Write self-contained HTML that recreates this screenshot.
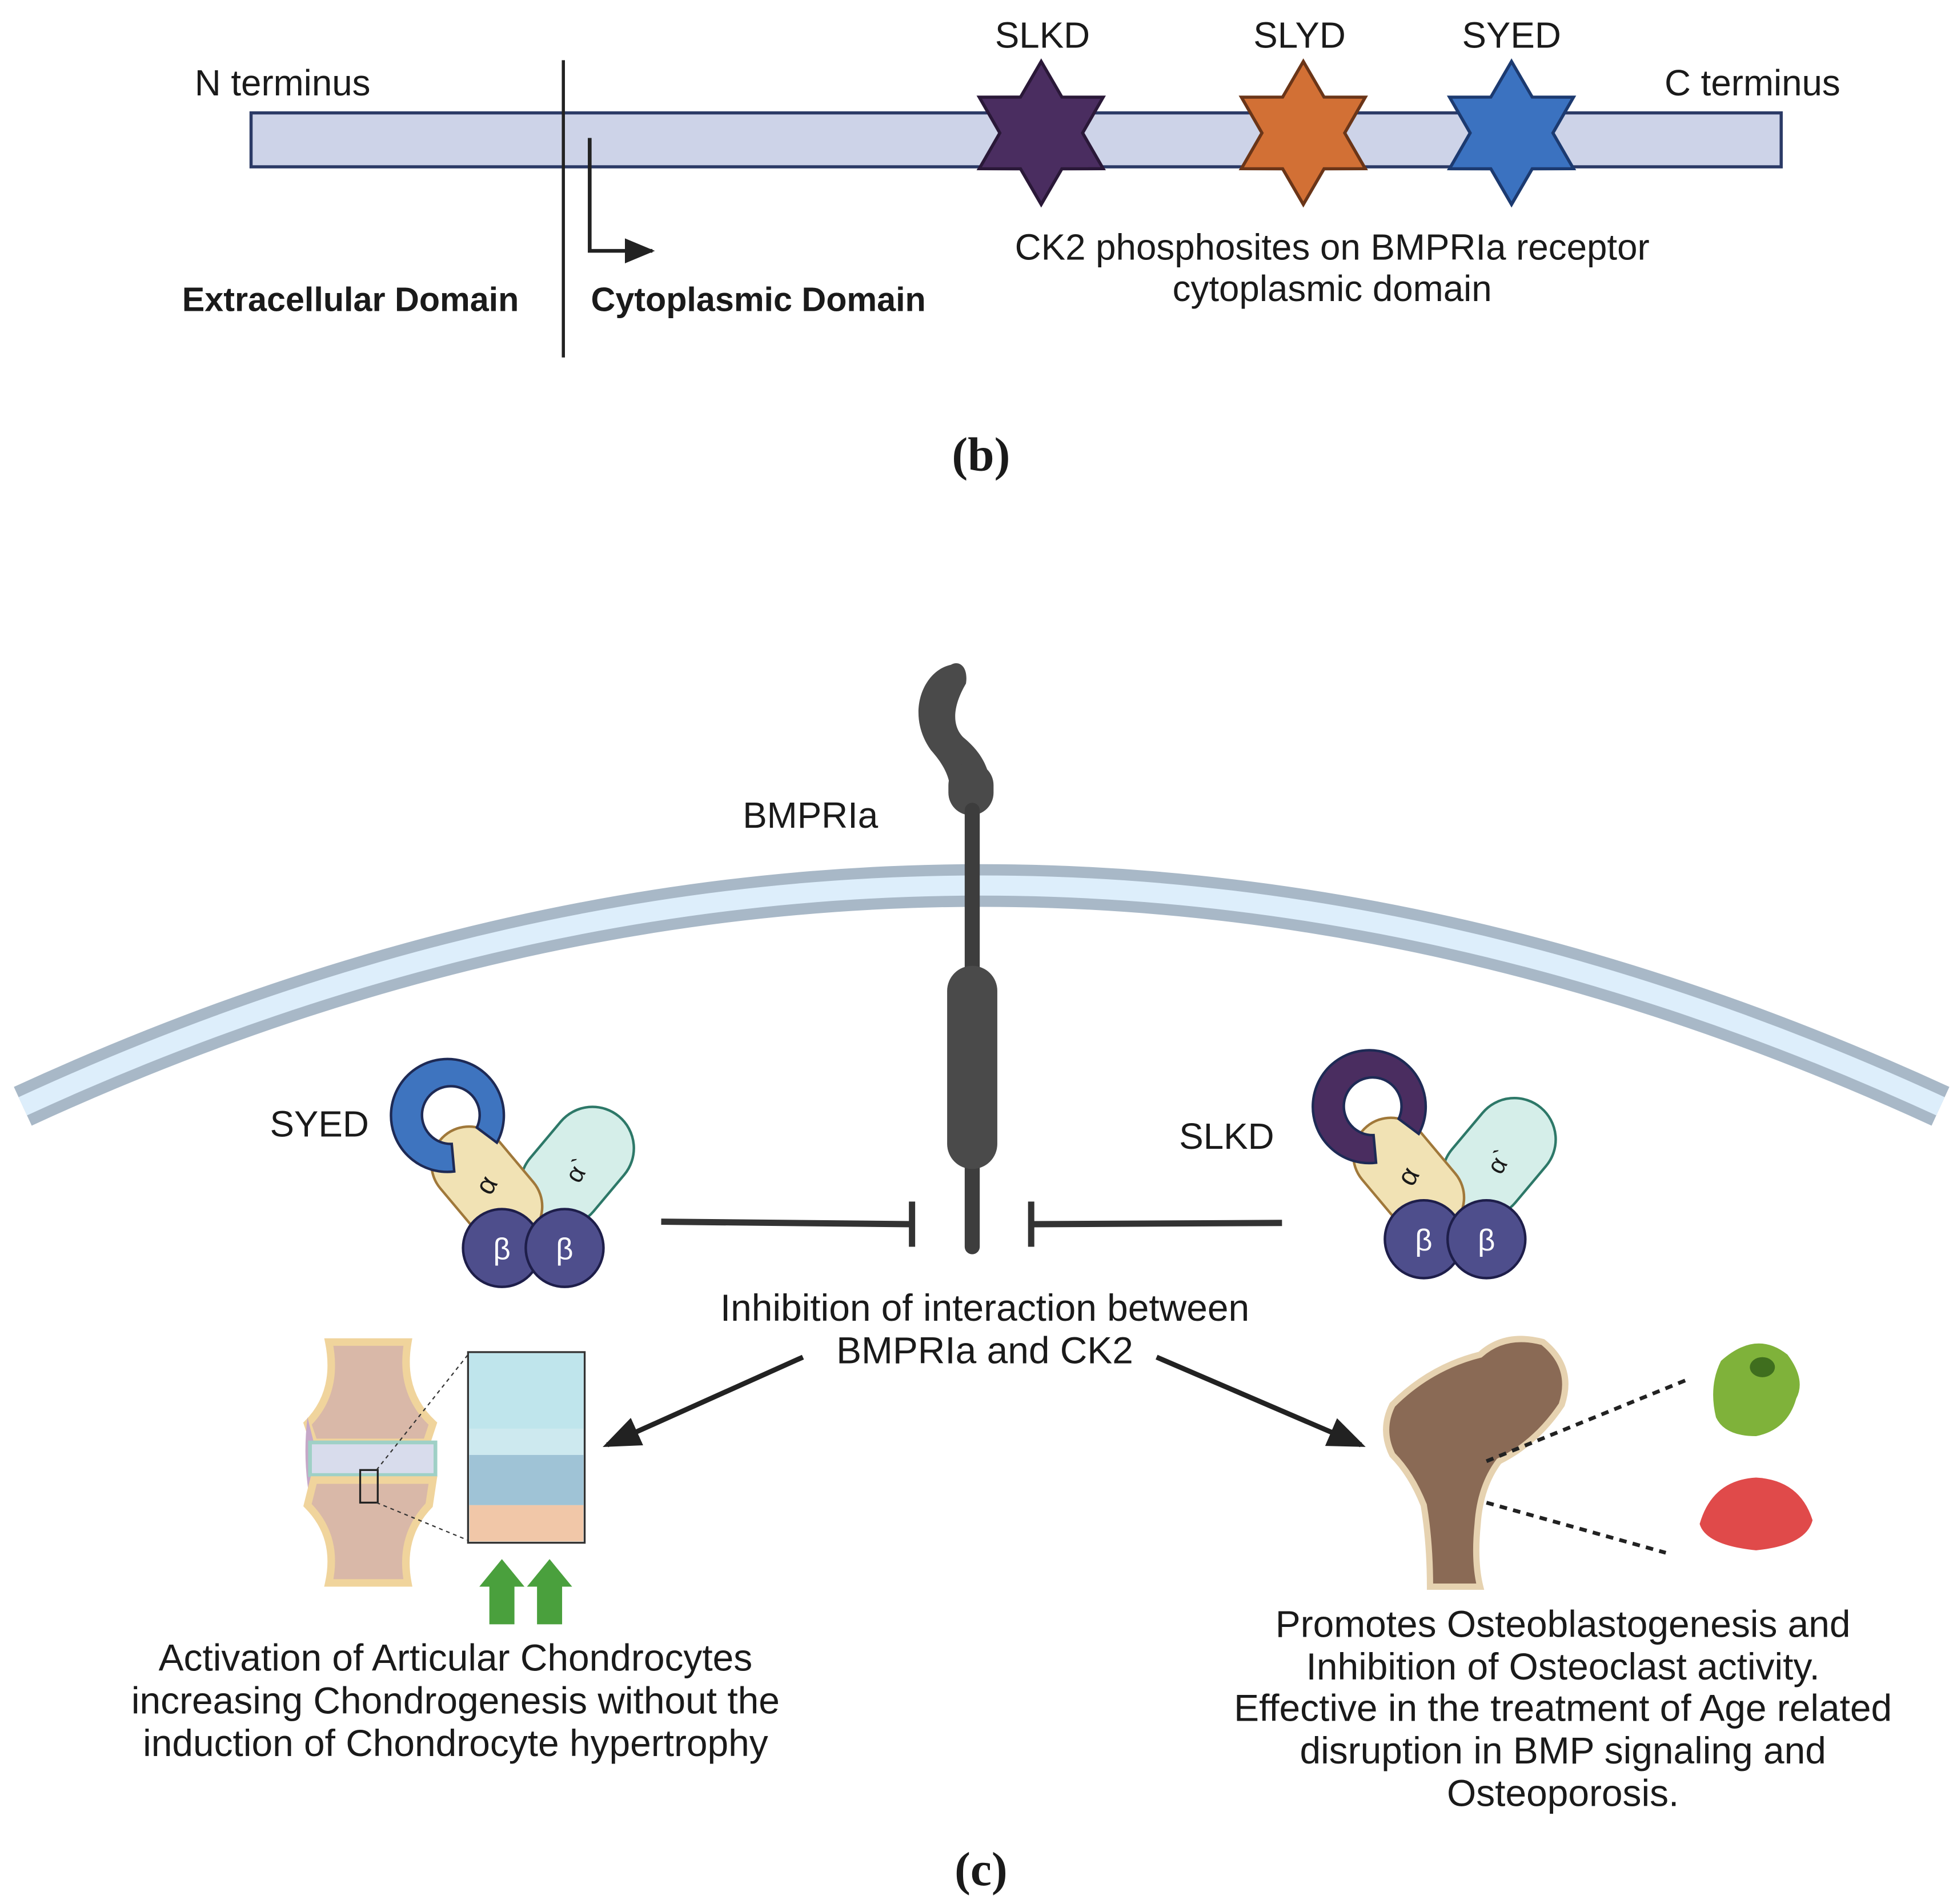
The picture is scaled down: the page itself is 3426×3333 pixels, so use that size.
<!DOCTYPE html>
<html><head><meta charset="utf-8"><style>
html,body{margin:0;padding:0;background:#fff;}
svg{display:block;}
text{font-family:"Liberation Sans","DejaVu Sans",sans-serif;fill:#1a1a1a;}
</style></head><body>
<svg width="3426" height="3333" viewBox="0 0 1560 1518" xmlns="http://www.w3.org/2000/svg">
<defs>
<marker id="ah" markerWidth="30" markerHeight="24" refX="26" refY="12" orient="auto" markerUnits="userSpaceOnUse" viewBox="0 0 30 24">
<path d="M0,0 L30,12 L0,24 z" fill="#222"/></marker>
<marker id="ah2" markerWidth="24" markerHeight="20" refX="22" refY="10" orient="auto" markerUnits="userSpaceOnUse" viewBox="0 0 24 20">
<path d="M0,0 L24,10 L0,20 z" fill="#222"/></marker>
<g id="star"><polygon points="0,-57 16.5,-28.6 49.4,-28.5 33,0 49.4,28.5 16.5,28.6 0,57 -16.5,28.6 -49.4,28.5 -33,0 -49.4,-28.5 -16.5,-28.6" stroke-width="2.5" stroke-linejoin="miter"/></g>
<g id="ck2">
<g transform="translate(460,930) rotate(40)"><rect x="-33" y="-52" width="66" height="104" rx="33" fill="#d5eee9" stroke="#2d7868" stroke-width="2"/></g>
<text x="460" y="940" font-size="20" text-anchor="middle" transform="rotate(-60 460 933)">α`</text>
<g transform="translate(388,945) rotate(-40)"><rect x="-30" y="-52" width="60" height="104" rx="30" fill="#f1e2b4" stroke="#a0783a" stroke-width="2"/></g>
<text x="388" y="952" font-size="22" text-anchor="middle" transform="rotate(-60 388 945)">α</text>
<path style="fill:var(--ring)" stroke="#1e2a55" stroke-width="2" d="M396,911 A45,45 0 1 0 362,934 L360,912 A23,23 0 1 1 380,899 Z"/>
<circle cx="400" cy="995" r="31" fill="#4e4e8c" stroke="#1e1e4a" stroke-width="2"/>
<circle cx="450" cy="995" r="31" fill="#4e4e8c" stroke="#1e1e4a" stroke-width="2"/>
<text x="400" y="1004" font-size="24" text-anchor="middle" style="fill:#fff">β</text>
<text x="450" y="1004" font-size="24" text-anchor="middle" style="fill:#fff">β</text>
</g>
</defs>

<!-- panel b -->
<rect x="200" y="90" width="1220" height="43" fill="#cdd3e8" stroke="#2b3a66" stroke-width="2.5"/>
<line x1="449" y1="48" x2="449" y2="285" stroke="#222" stroke-width="2.5"/>
<polyline points="470,110 470,200 520,200" fill="none" stroke="#222" stroke-width="3" marker-end="url(#ah2)"/>
<text x="155" y="76" font-size="29">N terminus</text>
<text x="1327" y="76" font-size="29">C terminus</text>
<text x="831" y="38" font-size="29" text-anchor="middle">SLKD</text>
<text x="1036" y="38" font-size="29" text-anchor="middle">SLYD</text>
<text x="1205" y="38" font-size="29" text-anchor="middle">SYED</text>
<use href="#star" transform="translate(830,106)" fill="#4a2d60" stroke="#2a1838"/>
<use href="#star" transform="translate(1039,106)" fill="#d27035" stroke="#6a3518"/>
<use href="#star" transform="translate(1205,106)" fill="#3b72c0" stroke="#1c3a70"/>
<text x="145" y="248" font-size="27" font-weight="bold">Extracellular Domain</text>
<text x="471" y="248" font-size="27" font-weight="bold">Cytoplasmic Domain</text>
<text x="1062" y="207" font-size="29" text-anchor="middle">CK2 phosphosites on BMPRIa receptor</text>
<text x="1062" y="240" font-size="29" text-anchor="middle">cytoplasmic domain</text>
<text x="782" y="375" font-size="38" font-weight="bold" text-anchor="middle" style="font-family:'Liberation Serif',serif">(b)</text>

<!-- membrane -->
<path d="M18,882 Q782,530 1547,882" fill="none" stroke="#a8b8c7" stroke-width="34"/>
<path d="M18,882 Q782,530 1547,882" fill="none" stroke="#ddeefb" stroke-width="16"/>

<!-- receptor -->
<path d="M758,530 C735,535 722,570 742,598 C757,615 758,625 758,640 L790,640 C792,612 780,598 768,588 C758,578 760,562 770,545 C772,532 765,526 758,530 Z" fill="#4a4a4a"/>
<rect x="756" y="608" width="36" height="42" rx="18" fill="#4a4a4a"/>
<rect x="769" y="640" width="12" height="360" rx="6" fill="#3d3d3d"/>
<rect x="755" y="770" width="40" height="162" rx="20" fill="#4a4a4a"/>
<text x="592" y="660" font-size="29">BMPRIa</text>

<!-- inhibitors -->
<line x1="527" y1="974" x2="727" y2="976" stroke="#333" stroke-width="5"/>
<line x1="727" y1="958" x2="727" y2="994" stroke="#333" stroke-width="5"/>
<line x1="822" y1="976" x2="1022" y2="975" stroke="#333" stroke-width="5"/>
<line x1="822" y1="958" x2="822" y2="994" stroke="#333" stroke-width="5"/>

<use href="#ck2" style="--ring:#3e74bf"/>
<use href="#ck2" transform="translate(735,-7)" style="--ring:#4a2d60"/>
<text x="215" y="906" font-size="29">SYED</text>
<text x="940" y="916" font-size="29">SLKD</text>

<text x="785" y="1053" font-size="30" text-anchor="middle">Inhibition of interaction between</text>
<text x="785" y="1087" font-size="30" text-anchor="middle">BMPRIa and CK2</text>

<line x1="640" y1="1082" x2="484" y2="1152" stroke="#222" stroke-width="4" marker-end="url(#ah)"/>
<line x1="922" y1="1082" x2="1085" y2="1152" stroke="#222" stroke-width="4" marker-end="url(#ah)"/>

<!-- joint -->
<path d="M262,1070 L325,1070 Q318,1110 345,1135 L340,1150 L250,1150 L245,1135 Q270,1110 262,1070 Z" fill="#d9b8a8" stroke="#f0d49c" stroke-width="6"/>
<path d="M245,1130 Q240,1170 250,1210 L250,1150 Z" fill="#c6a8c8"/>
<rect x="247" y="1150" width="100" height="26" fill="#d8dcec" stroke="#9fd0c6" stroke-width="3"/>
<path d="M250,1180 L345,1180 L342,1200 Q318,1225 325,1262 L262,1262 Q270,1225 245,1200 Z" fill="#d9b8a8" stroke="#f0d49c" stroke-width="6"/>
<rect x="287" y="1172" width="14" height="26" fill="none" stroke="#222" stroke-width="1.5"/>
<line x1="300" y1="1172" x2="373" y2="1080" stroke="#333" stroke-dasharray="3,3"/>
<line x1="300" y1="1198" x2="373" y2="1228" stroke="#333" stroke-dasharray="3,3"/>
<rect x="373" y="1078" width="93" height="152" fill="#cde9ef" stroke="#333" stroke-width="1.5"/>
<rect x="374" y="1079" width="91" height="60" fill="#bfe5ec"/>
<rect x="374" y="1160" width="91" height="40" fill="#9fc3d6"/>
<rect x="374" y="1200" width="91" height="29" fill="#f1c7a8"/>
<polygon points="390,1295 410,1295 410,1265 418,1265 400,1243 382,1265 390,1265" fill="#4aa03d"/>
<polygon points="428,1295 448,1295 448,1265 456,1265 438,1243 420,1265 428,1265" fill="#4aa03d"/>
<text x="363" y="1332" font-size="30" text-anchor="middle">Activation of Articular Chondrocytes</text>
<text x="363" y="1366" font-size="30" text-anchor="middle">increasing Chondrogenesis without the</text>
<text x="363" y="1400" font-size="30" text-anchor="middle">induction of Chondrocyte hypertrophy</text>

<!-- bone -->
<path d="M1110,1120 Q1140,1090 1180,1080 Q1200,1062 1230,1070 Q1255,1090 1245,1120 Q1225,1150 1195,1165 Q1180,1185 1178,1215 Q1175,1245 1180,1265 L1140,1265 Q1140,1230 1135,1200 Q1125,1175 1110,1160 Q1100,1140 1110,1120 Z" fill="#8a6a55" stroke="#e6d2b0" stroke-width="5"/>
<line x1="1185" y1="1165" x2="1345" y2="1100" stroke="#222" stroke-width="3" stroke-dasharray="6,5"/>
<line x1="1185" y1="1198" x2="1328" y2="1238" stroke="#222" stroke-width="3" stroke-dasharray="6,5"/>
<path d="M1372,1085 Q1400,1060 1425,1080 Q1440,1100 1432,1115 Q1425,1140 1400,1145 Q1375,1145 1368,1130 Q1362,1105 1372,1085 Z" fill="#7fb23a"/>
<ellipse cx="1405" cy="1090" rx="10" ry="8" fill="#3f6e1e"/>
<path d="M1355,1215 Q1365,1180 1400,1178 Q1435,1180 1445,1212 Q1440,1232 1400,1236 Q1360,1232 1355,1215 Z" fill="#e04a4a"/>
<text x="1246" y="1305" font-size="30" text-anchor="middle">Promotes Osteoblastogenesis and</text>
<text x="1246" y="1339" font-size="30" text-anchor="middle">Inhibition of Osteoclast activity.</text>
<text x="1246" y="1372" font-size="30" text-anchor="middle">Effective in the treatment of Age related</text>
<text x="1246" y="1406" font-size="30" text-anchor="middle">disruption in BMP signaling and</text>
<text x="1246" y="1440" font-size="30" text-anchor="middle">Osteoporosis.</text>
<text x="782" y="1503" font-size="38" font-weight="bold" text-anchor="middle" style="font-family:'Liberation Serif',serif">(c)</text>
</svg>
</body></html>
